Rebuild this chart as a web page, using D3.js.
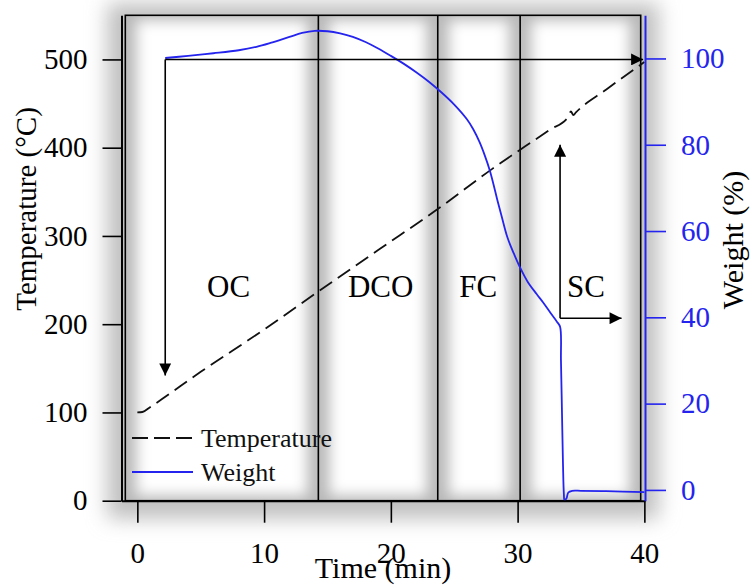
<!DOCTYPE html>
<html>
<head>
<meta charset="utf-8">
<script src="https://cdn.jsdelivr.net/npm/d3@7"></script>
<style>
  body { margin: 0; background: #fff; }
  svg { display: block; }
  text { font-family: "Liberation Serif", "Times New Roman", serif; }
</style>
</head>
<body>
<svg id="chart" width="751" height="585"></svg>
<script>
// Axis ticks
const TIME_TICKS = [0, 10, 20, 30, 40];
const TIME_MINOR = [5, 15, 25, 35];
const TEMP_TICKS = [0, 100, 200, 300, 400, 500];
const TEMP_MINOR = [50, 150, 250, 350, 450, 550];
const WEIGHT_TICKS = [0, 20, 40, 60, 80, 100];
const WEIGHT_MINOR = [10, 30, 50, 70, 90, 110];

// Temperature (°C) vs time (min)
const tempTime  = [0, 0.4, 1, 5, 10, 14.28, 19, 23.75, 28, 32.5, 34.0, 34.2, 34.4, 34.6, 37, 40];
const tempValue = [100, 100.5, 106, 146, 194, 237, 284, 331, 376, 420, 435, 441, 437, 440, 466, 497];

// Weight (%) vs time (min)
const weightTime  = [2.2, 4, 6, 8, 9.4, 10.5, 12, 13, 14, 15, 16, 17, 18, 19, 20, 21, 22, 23, 24, 25,
                     26, 26.5, 27, 27.4, 27.8, 28.1, 28.4, 28.75, 29.2, 29.7, 30.2, 30.8, 31.5, 32, 32.6,
                     33.1, 33.35, 33.42, 33.5, 33.58, 33.65, 33.7, 33.85, 34.0, 34.3, 35, 37, 40];
const weightValue = [100.1, 100.6, 101.2, 101.9, 102.7, 103.6, 105.0, 105.9, 106.4, 106.3, 105.8, 105.0, 103.8, 102.3, 100.6, 98.8, 96.8, 94.6, 92.1, 89.3,
                     85.9, 83.6, 80.6, 77.6, 74.1, 70.8, 67.2, 63.3, 58.5, 54.8, 51.5, 48.2, 45.4, 43.5, 41.0,
                     39.0, 37.8, 30, 18, 6, -1, -2.4, -2.0, -0.6, -0.2, -0.2, -0.3, -0.5];

// Reaction stages
const phaseBounds = [14.28, 23.7, 30.2];
const phaseNames = ['OC', 'DCO', 'FC', 'SC'];
const phaseLabelAt = [7.2, 19.2, 26.9, 35.4];

const BLUE = '#2424ee';

const svg = d3.select('#chart');
const defs = svg.append('defs');

const x = d3.scaleLinear().domain([-1.25, 40.05]).range([121.5, 645]);
const yT = d3.scaleLinear().domain([0, 550]).range([500.7, 15.3]);
const yW = d3.scaleLinear().domain([-2.5, 110]).range([500.7, 15.3]);

const box = { x0: 125.3, x1: 640.7, y0: 15.3, y1: 500.7 };

// blur filters for the soft gray shading
defs.append('filter').attr('id', 'halo')
    .attr('x', '-20%').attr('y', '-20%').attr('width', '140%').attr('height', '140%')
  .append('feGaussianBlur').attr('stdDeviation', 10);
defs.append('filter').attr('id', 'soft')
    .attr('x', '-50%').attr('y', '-20%').attr('width', '200%').attr('height', '140%')
  .append('feGaussianBlur').attr('stdDeviation', 7);
defs.append('clipPath').attr('id', 'boxclip')
  .append('rect')
    .attr('x', box.x0).attr('y', box.y0)
    .attr('width', box.x1 - box.x0).attr('height', box.y1 - box.y0);

defs.append('marker')
    .attr('id', 'arrow')
    .attr('viewBox', '0 0 10 10')
    .attr('refX', 10).attr('refY', 5)
    .attr('markerWidth', 14).attr('markerHeight', 12)
    .attr('markerUnits', 'userSpaceOnUse')
    .attr('orient', 'auto')
  .append('path')
    .attr('d', 'M0,0L10,5L0,10Z')
    .attr('fill', '#000');

// outer halo
svg.append('rect')
    .attr('x', box.x0 - 18).attr('y', box.y0 - 12)
    .attr('width', box.x1 - box.x0 + 36).attr('height', box.y1 - box.y0 + 30)
    .attr('fill', '#c0c0c0')
    .attr('filter', 'url(#halo)');

// panels: gray base with blurred white centres
const shade = svg.append('g').attr('clip-path', 'url(#boxclip)');
shade.append('rect')
    .attr('x', box.x0).attr('y', box.y0)
    .attr('width', box.x1 - box.x0).attr('height', box.y1 - box.y0)
    .attr('fill', '#b8b8b8');

const edges = [box.x0, ...phaseBounds.map(d => x(d)), box.x1];
shade.selectAll('rect.panel')
  .data(d3.pairs(edges))
  .join('rect')
    .attr('class', 'panel')
    .attr('x', d => d[0] + 11)
    .attr('y', box.y0 + 5)
    .attr('width', d => d[1] - d[0] - 22)
    .attr('height', box.y1 - box.y0 - 10)
    .attr('fill', '#fff')
    .attr('filter', 'url(#soft)');

// frame and stage boundaries
svg.append('rect')
    .attr('x', box.x0).attr('y', box.y0)
    .attr('width', box.x1 - box.x0).attr('height', box.y1 - box.y0)
    .attr('fill', 'none')
    .attr('stroke', '#000')
    .attr('stroke-width', 1.6);

svg.append('g')
  .selectAll('line')
  .data(phaseBounds)
  .join('line')
    .attr('x1', d => x(d)).attr('x2', d => x(d))
    .attr('y1', box.y0).attr('y2', box.y1)
    .attr('stroke', '#000')
    .attr('stroke-width', 1.6);

// curves
const tempLine = d3.line()
    .x(i => x(tempTime[i]))
    .y(i => yT(tempValue[i]))
    .curve(d3.curveMonotoneX);

svg.append('path')
    .attr('d', tempLine(d3.range(tempTime.length)))
    .attr('fill', 'none')
    .attr('stroke', '#111')
    .attr('stroke-width', 1.8)
    .attr('stroke-dasharray', '15,7');

const weightLine = d3.line()
    .x(i => x(weightTime[i]))
    .y(i => yW(weightValue[i]))
    .curve(d3.curveCatmullRom.alpha(0.5));

svg.append('path')
    .attr('d', weightLine(d3.range(weightTime.length)))
    .attr('fill', 'none')
    .attr('stroke', BLUE)
    .attr('stroke-width', 1.8);

// arrows
const arrows = [
  [[2.2, yT(500)], [39.9, yT(500)]],
  [[2.2, yT(500)], [2.2, yT(142)]],
  [[33.35, yW(39.8)], [33.35, yW(80)]],
  [[33.35, yW(39.8)], [38.2, yW(39.8)]]
];
svg.append('g')
  .selectAll('line')
  .data(arrows)
  .join('line')
    .attr('x1', d => x(d[0][0])).attr('y1', d => d[0][1])
    .attr('x2', d => x(d[1][0])).attr('y2', d => d[1][1])
    .attr('stroke', '#000')
    .attr('stroke-width', 1.6)
    .attr('marker-end', 'url(#arrow)');

// stage labels
svg.append('g')
  .selectAll('text')
  .data(phaseNames)
  .join('text')
    .attr('x', (d, i) => x(phaseLabelAt[i]))
    .attr('y', 297)
    .attr('text-anchor', 'middle')
    .attr('font-size', 31)
    .attr('fill', '#000')
    .text(d => d);

// axes
function styleAxis(g, color, size) {
  g.selectAll('path.domain').attr('stroke', color).attr('stroke-width', 2);
  g.selectAll('.tick line').attr('stroke', color).attr('stroke-width', 1.6);
  g.selectAll('.tick text')
    .attr('fill', color)
    .attr('font-size', size)
    .attr('font-family', '"Liberation Serif", "Times New Roman", serif');
}

const leftG = svg.append('g').attr('transform', `translate(${x.range()[0]},0)`);
leftG.call(d3.axisLeft(yT).tickValues(TEMP_MINOR).tickSize(10).tickSizeOuter(0).tickFormat(''));
leftG.call(d3.axisLeft(yT).tickValues(TEMP_TICKS).tickSize(19).tickSizeOuter(0).tickPadding(15));
styleAxis(leftG, '#000', 29);

const bottomG = svg.append('g').attr('transform', `translate(0,${yT.range()[0]})`);
bottomG.call(d3.axisBottom(x).tickValues(TIME_MINOR).tickSize(11).tickSizeOuter(0).tickFormat(''));
bottomG.call(d3.axisBottom(x).tickValues(TIME_TICKS).tickSize(22).tickSizeOuter(0).tickPadding(20));
styleAxis(bottomG, '#000', 29);

const rightG = svg.append('g').attr('transform', `translate(${x.range()[1]},0)`);
rightG.call(d3.axisRight(yW).tickValues(WEIGHT_MINOR).tickSize(11).tickSizeOuter(0).tickFormat(''));
rightG.call(d3.axisRight(yW).tickValues(WEIGHT_TICKS).tickSize(21).tickSizeOuter(0).tickPadding(15));
styleAxis(rightG, BLUE, 29);

// axis titles
svg.append('text')
    .attr('transform', 'translate(36,209) rotate(-90)')
    .attr('text-anchor', 'middle')
    .attr('font-size', 29)
    .text('Temperature (°C)');

svg.append('text')
    .attr('x', 383).attr('y', 578)
    .attr('text-anchor', 'middle')
    .attr('font-size', 30)
    .text('Time (min)');

svg.append('text')
    .attr('transform', 'translate(743,240) rotate(-90)')
    .attr('text-anchor', 'middle')
    .attr('font-size', 30)
    .text('Weight (%)');

// legend
const legend = svg.append('g').attr('transform', 'translate(132,438)');
const legendItems = [
  { name: 'Temperature', color: '#111', dash: '16,6' },
  { name: 'Weight', color: BLUE, dash: null }
];
const li = legend.selectAll('g')
  .data(legendItems)
  .join('g')
    .attr('transform', (d, i) => `translate(0,${i * 34})`);
li.append('line')
    .attr('x1', 0).attr('x2', 61)
    .attr('stroke', d => d.color)
    .attr('stroke-width', 1.8)
    .attr('stroke-dasharray', d => d.dash);
li.append('text')
    .attr('x', 69).attr('y', 9)
    .attr('font-size', 26)
    .attr('fill', '#111')
    .text(d => d.name);
</script>
</body>
</html>
